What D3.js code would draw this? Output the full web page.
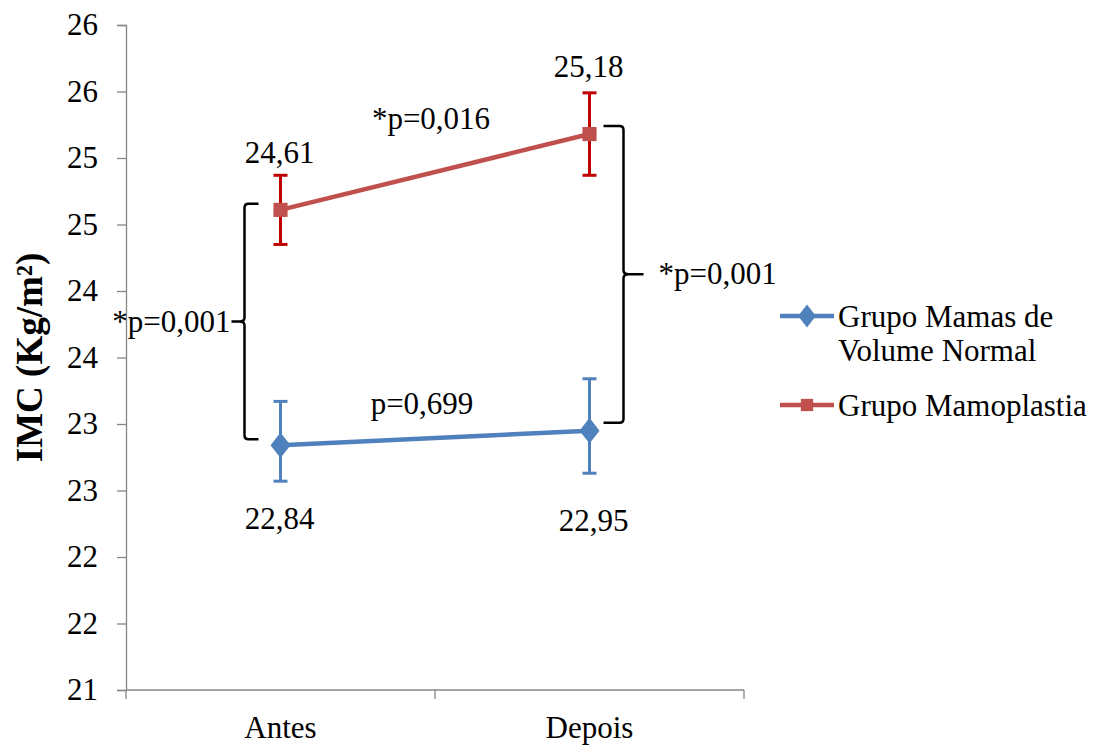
<!DOCTYPE html>
<html>
<head>
<meta charset="utf-8">
<script src="https://cdn.jsdelivr.net/npm/d3@7"></script>
<style>
  body { margin: 0; background: #fff; }
  text { font-family: "Liberation Serif", "Times New Roman", serif; fill: #000; }
</style>
</head>
<body>
<div id="chart"></div>
<script>
// data
var categories = ["Antes", "Depois"];
var seriesNames = ["Grupo Mamas de Volume Normal", "Grupo Mamoplastia"];
var normalValues = [22.84, 22.95];
var normalErrUp = [0.33, 0.39];
var normalErrDown = [0.27, 0.32];
var mamoValues = [24.61, 25.18];
var mamoErrUp = [0.26, 0.31];
var mamoErrDown = [0.26, 0.31];
var yTickValues = [21, 21.5, 22, 22.5, 23, 23.5, 24, 24.5, 25, 25.5, 26];
var yTickLabels = ["21", "22", "22", "23", "23", "24", "24", "25", "25", "26", "26"];
var valueLabels = [["22,84", "22,95"], ["24,61", "25,18"]];

var fontSize = "31px";
var svgWidth = 1108, svgHeight = 745;
var margin = { top: 25, left: 126, right: 364, bottom: 55 };
var width = svgWidth - margin.left - margin.right;
var height = svgHeight - margin.top - margin.bottom;

var svg = d3.select("#chart").append("svg")
  .attr("width", svgWidth)
  .attr("height", svgHeight);

var chartGroup = svg.append("g")
  .attr("transform", `translate(${margin.left}, ${margin.top})`);

var xScale = d3.scalePoint().domain(categories).range([0, width]).padding(0.5);
var yScale = d3.scaleLinear().domain([21, 26]).range([height, 0]);

// y axis
var yAxis = d3.axisLeft(yScale)
  .tickValues(yTickValues)
  .tickFormat((d, i) => yTickLabels[i])
  .tickSize(9)
  .tickPadding(19);
var yG = chartGroup.append("g").call(yAxis);
yG.select(".domain").attr("stroke", "#868686").attr("stroke-width", 1.3);
yG.selectAll(".tick line").attr("stroke", "#868686").attr("stroke-width", 1.3);
yG.selectAll(".tick text").style("font-size", fontSize).style("font-family", "Liberation Serif");

// x axis with ticks between categories
var xG = chartGroup.append("g").attr("transform", `translate(0, ${height})`);
xG.append("line").attr("x1", 0).attr("x2", width).attr("stroke", "#868686").attr("stroke-width", 1.3);
[0, width / 2, width].forEach(function(t) {
  xG.append("line").attr("x1", t).attr("x2", t).attr("y1", 0).attr("y2", 9)
    .attr("stroke", "#868686").attr("stroke-width", 1.3);
});
xG.selectAll(".xlab").data(categories).enter().append("text")
  .attr("x", d => xScale(d))
  .attr("y", 48)
  .attr("text-anchor", "middle")
  .style("font-size", fontSize)
  .text(d => d);

// y title
svg.append("text")
  .attr("transform", `translate(42, ${margin.top + height / 2}) rotate(-90)`)
  .attr("text-anchor", "middle")
  .style("font-size", "37px")
  .style("font-weight", "bold")
  .text("IMC (Kg/m²)");

var series = [
  { name: seriesNames[0], values: normalValues, up: normalErrUp, down: normalErrDown, color: "#4F81BD", err: "#4F81BD", marker: "diamond" },
  { name: seriesNames[1], values: mamoValues, up: mamoErrUp, down: mamoErrDown, color: "#C0504D", err: "#C00000", marker: "square" }
];

var line = d3.line().x((d, i) => xScale(categories[i])).y(d => yScale(d));

series.forEach(function(s) {
  var g = chartGroup.append("g");
  g.append("path").datum(s.values)
    .attr("d", line)
    .attr("fill", "none")
    .attr("stroke", s.color)
    .attr("stroke-width", 4.5);

  // error bars
  s.values.forEach(function(v, i) {
    var cx = xScale(categories[i]);
    var yt = yScale(v + s.up[i]), yb = yScale(v - s.down[i]);
    g.append("line").attr("x1", cx).attr("x2", cx).attr("y1", yt).attr("y2", yb)
      .attr("stroke", s.err).attr("stroke-width", 3);
    [yt, yb].forEach(function(yy) {
      g.append("line").attr("x1", cx - 7).attr("x2", cx + 7).attr("y1", yy).attr("y2", yy)
        .attr("stroke", s.err).attr("stroke-width", 3);
    });
  });

  var sym = s.marker === "diamond" ? d3.symbolDiamond : d3.symbolSquare;
  var size = s.marker === "diamond" ? 190 : 200;
  g.selectAll(".m").data(s.values).enter().append("path")
    .attr("d", d3.symbol().type(sym).size(size))
    .attr("transform", function(d, i) {
      var r = s.marker === "diamond" ? " scale(1.35,1)" : "";
      return `translate(${xScale(categories[i])}, ${yScale(d)})` + r;
    })
    .attr("fill", s.color);
});

// value labels
var xA = xScale("Antes") + margin.left, xD = xScale("Depois") + margin.left;
function label(x, y, t, anchor) {
  svg.append("text").attr("x", x).attr("y", y)
    .attr("text-anchor", anchor || "middle")
    .style("font-size", fontSize)
    .text(t);
}
label(xA - 1, 163, valueLabels[1][0]);
label(xD - 1, 77, valueLabels[1][1]);
label(xA - 1, 529, valueLabels[0][0]);
label(xD + 4, 531, valueLabels[0][1]);
label(431, 129, "*p=0,016");
label(422, 414, "p=0,699");

// brackets
function py(v) { return yScale(v) + margin.top; }
var lTop = py(mamoValues[0]) - 6, lBot = py(normalValues[0]) - 6, lMid = (lTop + lBot) / 2;
var lx = xA - 36;
var leftPath = d3.path();
leftPath.moveTo(lx + 14, lTop);
leftPath.lineTo(lx + 4, lTop);
leftPath.quadraticCurveTo(lx, lTop, lx, lTop + 4);
leftPath.lineTo(lx, lMid - 4);
leftPath.quadraticCurveTo(lx, lMid, lx - 5, lMid);
leftPath.lineTo(lx - 13, lMid);
leftPath.moveTo(lx - 5, lMid);
leftPath.quadraticCurveTo(lx, lMid, lx, lMid + 4);
leftPath.lineTo(lx, lBot - 4);
leftPath.quadraticCurveTo(lx, lBot, lx + 4, lBot);
leftPath.lineTo(lx + 14, lBot);
svg.append("path").attr("d", leftPath.toString())
  .attr("fill", "none").attr("stroke", "#000").attr("stroke-width", 2.5);
label(lx - 14, lMid + 10, "*p=0,001", "end");

var rTop = py(mamoValues[1]) - 8, rBot = py(normalValues[1]) - 8, rMid = (rTop + rBot) / 2;
var rx = xD + 34;
var rightPath = d3.path();
rightPath.moveTo(rx - 20, rTop);
rightPath.lineTo(rx - 4, rTop);
rightPath.quadraticCurveTo(rx, rTop, rx, rTop + 4);
rightPath.lineTo(rx, rMid - 4);
rightPath.quadraticCurveTo(rx, rMid, rx + 5, rMid);
rightPath.lineTo(rx + 20, rMid);
rightPath.moveTo(rx + 5, rMid);
rightPath.quadraticCurveTo(rx, rMid, rx, rMid + 4);
rightPath.lineTo(rx, rBot - 4);
rightPath.quadraticCurveTo(rx, rBot, rx - 4, rBot);
rightPath.lineTo(rx - 20, rBot);
svg.append("path").attr("d", rightPath.toString())
  .attr("fill", "none").attr("stroke", "#000").attr("stroke-width", 2.5);
label(rx + 35, rMid + 10, "*p=0,001", "start");

// legend
var legend = svg.append("g");
var legendRows = [
  { s: series[0], y: 316, lines: ["Grupo Mamas de", "Volume Normal"] },
  { s: series[1], y: 405, lines: ["Grupo Mamoplastia"] }
];
legendRows.forEach(function(r) {
  legend.append("line").attr("x1", 780).attr("x2", 834).attr("y1", r.y).attr("y2", r.y)
    .attr("stroke", r.s.color).attr("stroke-width", 4.5);
  var sym = r.s.marker === "diamond" ? d3.symbolDiamond : d3.symbolSquare;
  legend.append("path")
    .attr("d", d3.symbol().type(sym).size(150))
    .attr("transform", `translate(807, ${r.y})` + (r.s.marker === "diamond" ? " scale(1.35,1)" : ""))
    .attr("fill", r.s.color);
  r.lines.forEach(function(t, i) {
    legend.append("text").attr("x", 838).attr("y", r.y + 11 + i * 34)
      .style("font-size", fontSize).text(t);
  });
});
</script>
</body>
</html>
